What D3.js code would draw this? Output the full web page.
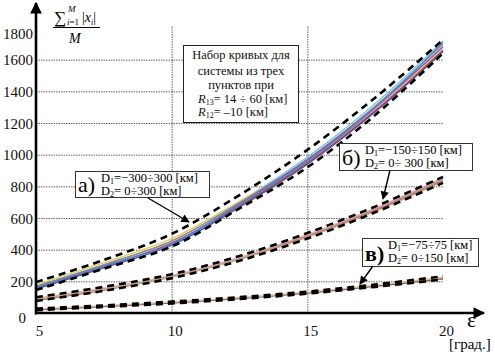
<!DOCTYPE html>
<html>
<head>
<meta charset="utf-8">
<script src="https://cdn.jsdelivr.net/npm/d3@7"></script>
<style>
  body { margin: 0; background: #fff; }
  svg, svg text { font-family: "Liberation Serif", "DejaVu Serif", serif; }
</style>
</head>
<body>
<div id="chart"></div>
<script>
const eps = [5, 7.5, 10, 12.5, 15, 17.5, 20];
const xTicks = [5, 10, 15, 20];
const yTicks = [0, 200, 400, 600, 800, 1000, 1200, 1400, 1600, 1800];
const yGrid = [200, 400, 600, 800, 1000, 1200, 1400, 1600];

// group a) D1=-300..300, D2=0..300
const aUpper = [195, 335, 500, 745, 1030, 1360, 1725];
const aLower = [145, 280, 420, 660, 920, 1250, 1640];
const aLine1 = [150, 285, 428, 668, 940, 1270, 1650];
const aLine2 = [165, 302, 452, 702, 985, 1322, 1718];
const aLine3 = [178, 318, 470, 706, 962, 1292, 1665];
const aLine4 = [160, 296, 445, 682, 950, 1285, 1690];
const aLine5 = [155, 290, 440, 676, 945, 1276, 1660];
const aLine6 = [170, 306, 456, 696, 972, 1306, 1702];
const aLine7 = [158, 292, 436, 690, 966, 1300, 1680];
const aLine8 = [162, 298, 434, 686, 956, 1296, 1708];

// group б) D1=-150..150, D2=0..300
const bUpper = [100, 165, 245, 360, 505, 672, 860];
const bLower = [76, 140, 220, 330, 470, 636, 822];
const bLine1 = [85, 150, 232, 345, 485, 650, 845];
const bLine2 = [80, 145, 228, 340, 480, 645, 835];
const bLine3 = [90, 155, 236, 350, 492, 660, 852];
const bLine4 = [88, 152, 230, 342, 488, 655, 840];
const bLine5 = [93, 158, 239, 352, 496, 663, 856];
const bLine6 = [83, 148, 226, 338, 478, 642, 830];

// group в) D1=-75..75, D2=0..150
const cUpper = [28, 48, 72, 100, 135, 180, 232];
const cLower = [18, 38, 60, 88, 122, 165, 212];
const cLine1 = [24, 44, 67, 95, 130, 173, 222];
const cLine2 = [22, 42, 65, 93, 127, 170, 218];
const cLine3 = [20, 40, 63, 91, 125, 168, 215];
const cLine4 = [26, 46, 69, 97, 132, 176, 226];

const colored = [
  {v: aLine1, c: "#2f5fb8"}, {v: aLine2, c: "#7cc4e4"}, {v: aLine3, c: "#e6cc5a"},
  {v: aLine4, c: "#e79aab"}, {v: aLine5, c: "#a8384a"}, {v: aLine6, c: "#8a8a96"},
  {v: aLine7, c: "#7a5ea8"}, {v: aLine8, c: "#4f86c6"},
  {v: bLine1, c: "#e59aa8"}, {v: bLine2, c: "#9a3040"}, {v: bLine3, c: "#9a9aa4"},
  {v: bLine4, c: "#c08a8a"}, {v: bLine5, c: "#f0b8c4"}, {v: bLine6, c: "#cbb87a"},
  {v: cLine1, c: "#e6d27a"}, {v: cLine2, c: "#e8a0b0"}, {v: cLine3, c: "#9a5a4a"},
  {v: cLine4, c: "#d8c8a0"}
];
const dashed = [aUpper, aLower, bUpper, bLower, cUpper, cLower];

const W = 495, H = 356;
const svg = d3.select("#chart").append("svg")
    .attr("width", W).attr("height", H);

const x = d3.scaleLinear().domain([5, 20]).range([36, 443]);
const y = d3.scaleLinear().domain([0, 1800]).range([313, 28]);

// gridlines
svg.append("g")
    .attr("transform", "translate(36,0)")
    .call(d3.axisRight(y).tickValues(yGrid).tickSize(443 - 36).tickFormat(""))
    .call(g => g.select(".domain").remove())
    .selectAll("line")
    .attr("stroke", "#666").attr("stroke-dasharray", "1.5,1");
svg.append("g")
    .attr("transform", "translate(0,313)")
    .call(d3.axisTop(x).tickValues([10, 15]).tickSize(313 - 26).tickFormat(""))
    .call(g => g.select(".domain").remove())
    .selectAll("line")
    .attr("stroke", "#666").attr("stroke-dasharray", "1.5,1");

const line = d3.line()
    .x((d, i) => x(eps[i]))
    .y(d => y(d))
    .curve(d3.curveCatmullRom);

// colored curves
svg.append("g").selectAll("path")
  .data(colored).join("path")
    .attr("d", d => line(d.v))
    .attr("fill", "none")
    .attr("stroke", d => d.c)
    .attr("stroke-width", 1.3);

// bounding dashed curves
svg.append("g").selectAll("path")
  .data(dashed).join("path")
    .attr("d", d => line(d))
    .attr("fill", "none")
    .attr("stroke", "#000")
    .attr("stroke-width", 2.6)
    .attr("stroke-dasharray", "7,5");

// arrowheads
const defs = svg.append("defs");
defs.append("marker").attr("id", "big")
    .attr("viewBox", "0 0 10 10").attr("refX", 9).attr("refY", 5)
    .attr("markerWidth", 5).attr("markerHeight", 4.5).attr("markerUnits", "strokeWidth")
    .attr("orient", "auto")
  .append("path").attr("d", "M0,0 L10,5 L0,10 Z").attr("fill", "#000");
defs.append("marker").attr("id", "small")
    .attr("viewBox", "0 0 10 10").attr("refX", 9).attr("refY", 5)
    .attr("markerWidth", 7).attr("markerHeight", 6).attr("markerUnits", "strokeWidth")
    .attr("orient", "auto")
  .append("path").attr("d", "M0,0 L10,5 L0,10 Z").attr("fill", "#000");

// axes
const xAxis = svg.append("g")
    .attr("transform", "translate(0,313)")
    .call(d3.axisBottom(x).tickValues(xTicks).tickSize(0).tickPadding(12));
xAxis.select(".domain").remove();
xAxis.selectAll("text")
    .style("font-family", "Liberation Serif").style("font-size", "15px")
    .attr("fill", "#111").attr("dx", 3);

const yAxis = svg.append("g")
    .attr("transform", "translate(36,0)")
    .call(d3.axisLeft(y).tickValues(yTicks).tickSize(0).tickPadding(3).tickFormat(d3.format("d")));
yAxis.select(".domain").remove();
yAxis.selectAll("text")
    .style("font-family", "Liberation Serif").style("font-size", "15px")
    .attr("fill", "#111")
    .attr("dy", d => d === 1800 ? "0.7em" : d === 0 ? "0.6em" : "0.35em")
    .attr("dx", d => d === 0 ? -7 : 0);

svg.append("line")
    .attr("x1", 35).attr("y1", 313).attr("x2", 484).attr("y2", 313)
    .attr("stroke", "#000").attr("stroke-width", 2.6)
    .attr("marker-end", "url(#big)");
svg.append("line")
    .attr("x1", 36).attr("y1", 314.5).attr("x2", 36).attr("y2", 3)
    .attr("stroke", "#000").attr("stroke-width", 2.6)
    .attr("marker-end", "url(#big)");

// axis names
svg.append("text").attr("x", 467).attr("y", 327)
    .attr("font-size", 22).text("ε");
svg.append("text").attr("x", 449).attr("y", 349)
    .attr("font-size", 15).text("[град.]");

// y label: sum |x_i| / M
const ylab = svg.append("g").attr("font-size", 14);
ylab.append("text").attr("x", 54).attr("y", 23).attr("font-size", 17).text("∑");
ylab.append("text").attr("x", 68).attr("y", 12).attr("font-size", 9)
    .attr("font-style", "italic").text("M");
ylab.append("text").attr("x", 67).attr("y", 25).attr("font-size", 9)
    .html('<tspan font-style="italic">i</tspan>=1');
ylab.append("text").attr("x", 82).attr("y", 22).attr("font-size", 14)
    .html('|<tspan font-style="italic">x</tspan><tspan font-size="8" dy="3" font-style="italic">i</tspan><tspan dy="-3">|</tspan>');
svg.append("line").attr("x1", 53).attr("x2", 100).attr("y1", 27.5).attr("y2", 27.5)
    .attr("stroke", "#000").attr("stroke-width", 1);
svg.append("text").attr("x", 69).attr("y", 43).attr("font-size", 14)
    .attr("font-style", "italic").text("M");

// info box
svg.append("rect").attr("x", 183.5).attr("y", 45.5).attr("width", 115).attr("height", 77)
    .attr("fill", "#fff").attr("stroke", "#222").attr("stroke-width", 1);
const info = svg.append("g").attr("font-size", 12.5).attr("fill", "#111");
info.append("text").attr("x", 241).attr("y", 59).attr("text-anchor", "middle").text("Набор кривых для");
info.append("text").attr("x", 241).attr("y", 75).attr("text-anchor", "middle").text("системы из трех");
info.append("text").attr("x", 241).attr("y", 89).attr("text-anchor", "middle").text("пунктов при");
info.append("text").attr("x", 198).attr("y", 103)
    .html('<tspan font-style="italic">R</tspan><tspan font-size="8" dy="2">13</tspan><tspan dy="-2">= 14 ÷ 60 [км]</tspan>');
info.append("text").attr("x", 198).attr("y", 116)
    .html('<tspan font-style="italic">R</tspan><tspan font-size="8" dy="2">12</tspan><tspan dy="-2">= –10 [км]</tspan>');

// labelled boxes with arrows to the curve groups
const boxes = [
  {x: 75, y: 171, w: 134, h: 26, tag: "а)", bold: false, l1: "=−300÷300 [км]", l2: "= 0÷300 [км]",
   ax1: 148, ay1: 198, ax2: 189, ay2: 222},
  {x: 339, y: 143, w: 133, h: 27, tag: "б)", bold: false, l1: "=−150÷150 [км]", l2: "= 0÷ 300 [км]",
   ax1: 390, ay1: 170, ax2: 383, ay2: 199},
  {x: 362, y: 238, w: 116, h: 28, tag: "в)", bold: true, l1: "=−75÷75 [км]", l2: "= 0÷150 [км]",
   ax1: 373, ay1: 266, ax2: 360, ay2: 284}
];
boxes.forEach(b => {
  svg.append("rect").attr("x", b.x + 0.5).attr("y", b.y + 0.5).attr("width", b.w).attr("height", b.h)
      .attr("fill", "#fff").attr("stroke", "#333").attr("stroke-width", 1);
  svg.append("text").attr("x", b.x + 3).attr("y", b.y + b.h - 5)
      .attr("font-size", 22).attr("font-weight", b.bold ? "bold" : "normal").text(b.tag);
  svg.append("text").attr("x", b.x + 26).attr("y", b.y + 10.5).attr("font-size", 12.5)
      .html('D<tspan font-size="8" dy="2">1</tspan><tspan dy="-2">' + b.l1 + '</tspan>');
  svg.append("text").attr("x", b.x + 26).attr("y", b.y + 23.5).attr("font-size", 12.5)
      .html('D<tspan font-size="8" dy="2">2</tspan><tspan dy="-2">' + b.l2 + '</tspan>');
  svg.append("line").attr("x1", b.ax1).attr("y1", b.ay1).attr("x2", b.ax2).attr("y2", b.ay2)
      .attr("stroke", "#000").attr("stroke-width", 1.4)
      .attr("marker-end", "url(#small)");
});
</script>
</body>
</html>
